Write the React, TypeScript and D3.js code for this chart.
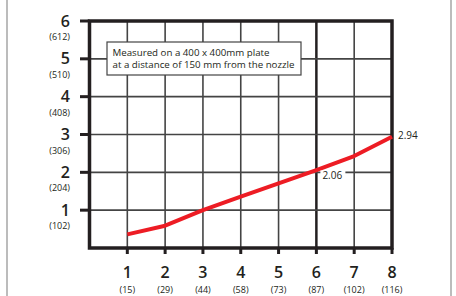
import React from 'react';
import * as d3 from 'd3';

const W = 456;
const H = 296;

const xTicks = [1, 2, 3, 4, 5, 6, 7, 8];
const xSubLabels = ['(15)', '(29)', '(44)', '(58)', '(73)', '(87)', '(102)', '(116)'];
const yTicks = [1, 2, 3, 4, 5, 6];
const ySubLabels = ['(102)', '(204)', '(306)', '(408)', '(510)', '(612)'];

const seriesX = [1, 2, 3, 4, 5, 6, 7, 8];
const seriesY = [0.36, 0.59, 1.0, 1.36, 1.71, 2.06, 2.43, 2.94];

const noteLines = [
  'Measured on a 400 x 400mm plate',
  'at a distance of 150 mm from the nozzle',
];

const FONT = '"Open Sans", "Noto Sans", sans-serif';
const INK = '#231f20';

const App: React.FC = () => {
  const x = d3.scaleLinear().domain([0, 8]).range([89.5, 392]);
  const y = d3.scaleLinear().domain([0, 6]).range([248, 21]);

  const line = d3
    .line<number>()
    .x((_, i) => x(seriesX[i]))
    .y((d) => y(d));

  const x0 = x(0);
  const x1 = x(8);
  const y0 = y(0);
  const y1 = y(6);

  return (
    <svg
      width={W}
      height={H}
      style={{ position: 'absolute', left: 0, top: 0, background: '#fff' }}
    >
      {/* page edges */}
      <line x1={7} x2={7} y1={0} y2={H} stroke="#bcbcbc" strokeWidth={2} />
      <line x1={451} x2={451} y1={0} y2={H} stroke="#bcbcbc" strokeWidth={2} />

      {/* grid */}
      {xTicks.slice(0, 7).map((t) => (
        <line
          key={'gx' + t}
          x1={x(t)}
          x2={x(t)}
          y1={y1}
          y2={y0}
          stroke={t === 6 ? INK : '#444'}
          strokeWidth={t === 6 ? 2.5 : 1.6}
        />
      ))}
      {yTicks.slice(0, 5).map((t) => (
        <line
          key={'gy' + t}
          x1={x0}
          x2={x1}
          y1={y(t)}
          y2={y(t)}
          stroke="#444"
          strokeWidth={1.6}
        />
      ))}

      {/* frame */}
      <rect
        x={x0}
        y={y1}
        width={x1 - x0}
        height={y0 - y1}
        fill="none"
        stroke={INK}
        strokeWidth={3.5}
      />

      {/* y ticks + labels */}
      {yTicks.map((t, i) => (
        <g key={'yt' + t}>
          <line x1={80} x2={x0} y1={y(t)} y2={y(t)} stroke={INK} strokeWidth={3} />
          <text
            x={70}
            y={y(t) + 5.5}
            textAnchor="end"
            fontFamily={FONT}
            fontSize={16}
            fontWeight={600}
            fill={INK}
          >
            {t}
          </text>
          <text
            x={70}
            y={y(t) + 19}
            textAnchor="end"
            fontFamily={FONT}
            fontSize={9}
            fontWeight={500}
            fill={INK}
          >
            {ySubLabels[i]}
          </text>
        </g>
      ))}

      {/* x ticks + labels */}
      {xTicks.map((t, i) => (
        <g key={'xt' + t}>
          <line x1={x(t)} x2={x(t)} y1={y0} y2={254} stroke={INK} strokeWidth={3} />
          <text
            x={x(t)}
            y={278}
            textAnchor="middle"
            fontFamily={FONT}
            fontSize={16}
            fontWeight={600}
            fill={INK}
          >
            {t}
          </text>
          <text
            x={x(t)}
            y={293}
            textAnchor="middle"
            fontFamily={FONT}
            fontSize={9}
            fontWeight={500}
            fill={INK}
          >
            {xSubLabels[i]}
          </text>
        </g>
      ))}

      {/* note box */}
      <rect x={107} y={42} width={194} height={33} fill="#fff" stroke="#444" strokeWidth={1.2} />
      {noteLines.map((s, i) => (
        <text
          key={s}
          x={112.5}
          y={56 + i * 11.5}
          fontFamily={FONT}
          fontSize={9.7}
          fontWeight={500}
          fill={INK}
          textLength={i === 0 ? 157 : 182}
          lengthAdjust="spacingAndGlyphs"
        >
          {s}
        </text>
      ))}

      {/* series */}
      <path
        d={line(seriesY) || ''}
        fill="none"
        stroke="#ed1c24"
        strokeWidth={4}
        strokeLinejoin="round"
      />

      {/* value labels */}
      <rect x={x(6) + 4} y={y(seriesY[5]) + 0.5} width={25} height={10} fill="#fff" />
      <text x={x(6) + 6} y={y(seriesY[5]) + 9} fontFamily={FONT} fontSize={10} fontWeight={500} fill={INK}>
        {seriesY[5].toFixed(2)}
      </text>
      <text x={x(8) + 6} y={y(seriesY[7]) + 2.5} fontFamily={FONT} fontSize={10} fontWeight={500} fill={INK}>
        {seriesY[7].toFixed(2)}
      </text>
    </svg>
  );
};

export default App;
